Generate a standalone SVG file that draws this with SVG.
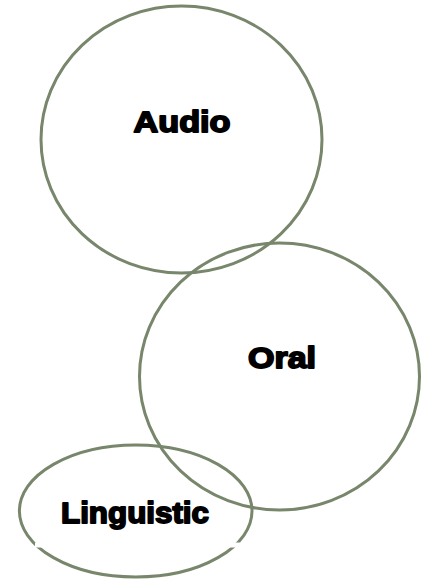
<svg xmlns="http://www.w3.org/2000/svg" width="432" height="584" viewBox="0 0 432 584">
<style>
.c{fill:none;stroke:#78866B;stroke-width:3}
.t{font-family:"Liberation Sans",Arial,sans-serif;font-weight:bold;font-size:30px;fill:#000;stroke:#000;stroke-width:1.8;stroke-linejoin:round;text-anchor:middle}
</style>
<rect width="432" height="584" fill="#fff"/>
<g id="audio">
<ellipse class="c" cx="181.5" cy="139.5" rx="140.5" ry="133.5"/>
<text class="t" x="182" y="132" textLength="97" lengthAdjust="spacingAndGlyphs">Audio</text>
</g>
<g id="oral">
<ellipse class="c" cx="279.5" cy="376.5" rx="140" ry="133.5"/>
<text class="t" x="282" y="368" textLength="68" lengthAdjust="spacingAndGlyphs">Oral</text>
</g>
<g id="linguistic">
<ellipse class="c" cx="135.7" cy="511" rx="116.3" ry="66"/>
<text class="t" x="135" y="523" textLength="148" lengthAdjust="spacingAndGlyphs">Linguistic</text>
</g>
<g id="connectors"/>
<rect x="35" y="542.5" width="205" height="5" fill="#fff"/>
</svg>
